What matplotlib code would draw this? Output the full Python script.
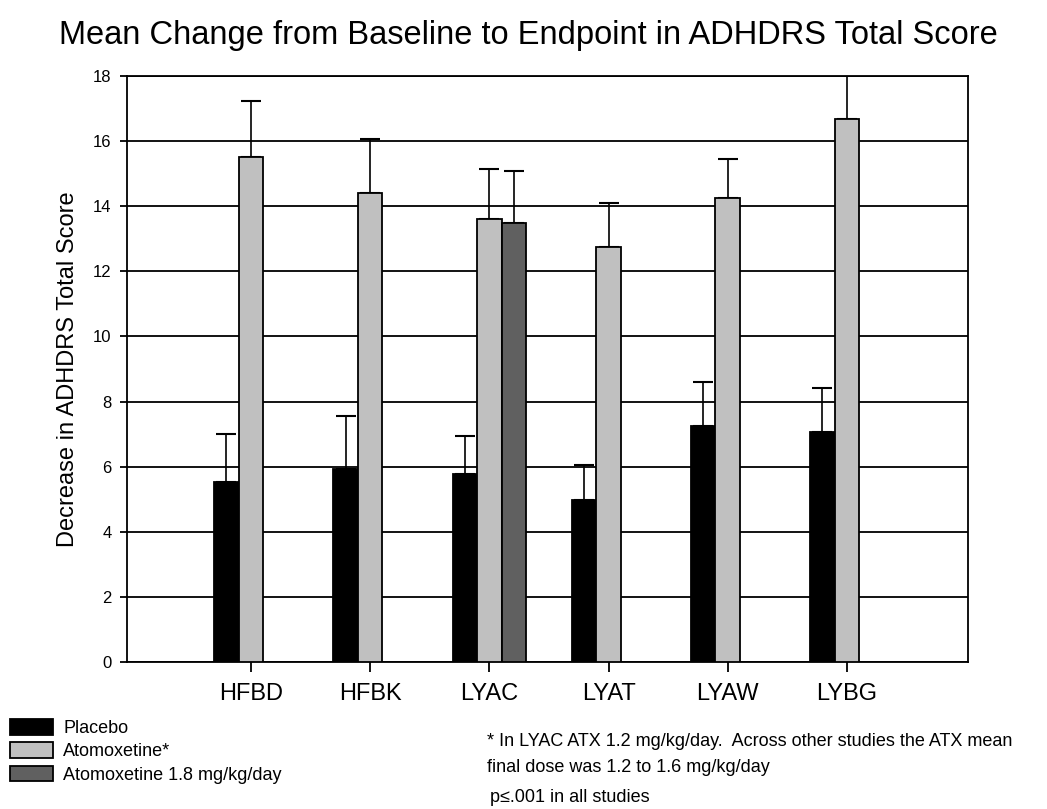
import numpy as np
import matplotlib.pyplot as plt
from matplotlib.patches import Patch

plt.rcParams['font.family'] = ['Liberation Sans', 'DejaVu Sans']

studies = ['HFBD', 'HFBK', 'LYAC', 'LYAT', 'LYAW', 'LYBG']
placebo = [5.54, 5.92, 5.78, 4.98, 7.26, 7.07]
placebo_err = [1.46, 1.63, 1.15, 1.08, 1.34, 1.34]
atx = [15.52, 14.41, 13.61, 12.76, 14.24, 16.69]
atx_err = [1.72, 1.66, 1.54, 1.34, 1.22, 1.75]
atx_high = [np.nan, np.nan, 13.49, np.nan, np.nan, np.nan]
atx_high_err = [np.nan, np.nan, 1.60, np.nan, np.nan, np.nan]

series_names = ['Placebo', 'Atomoxetine*', 'Atomoxetine 1.8 mg/kg/day']
colors = ['#000000', '#c0c0c0', '#606060']

fig = plt.figure(figsize=(10.47, 8.09), dpi=100)
ax = fig.add_axes([0.1213, 0.1817, 0.8032, 0.7243])

x = np.arange(len(studies))
w = 0.206
series = [(placebo, placebo_err), (atx, atx_err), (atx_high, atx_high_err)]
for i, (vals, errs) in enumerate(series):
    vals = np.array(vals)
    errs = np.array(errs)
    pos = x + (i - 1) * w
    ax.bar(pos, vals, width=w, color=colors[i], edgecolor='black', linewidth=1.3, zorder=3)
    ax.errorbar(pos, vals, yerr=[np.zeros_like(errs), errs], fmt='none', ecolor='black',
                elinewidth=1.2, capsize=7, capthick=1.5, zorder=2)

ax.set_ylim(0, 18)
ax.set_xlim(-1.04, 6.015)
ax.set_yticks(np.arange(0, 19, 2))
ax.set_xticks(x)
ax.set_xticklabels(studies, fontsize=17)
ax.tick_params(axis='y', labelsize=12, length=5, width=1.3, direction='out', pad=6)
ax.tick_params(axis='x', length=7, width=1.3, direction='out', pad=8)
ax.yaxis.grid(True, color='black', linewidth=1.3, zorder=0)
ax.set_axisbelow(True)
for s in ax.spines.values():
    s.set_linewidth(1.3)
ax.set_ylabel('Decrease in ADHDRS Total Score', fontsize=17, labelpad=10)

fig.text(0.505, 0.956, 'Mean Change from Baseline to Endpoint in ADHDRS Total Score',
         ha='center', va='center', fontsize=23.5)

handles = [Patch(facecolor=c, edgecolor='black', linewidth=1.3) for c in colors]
fig.legend(handles, series_names, loc='upper left', bbox_to_anchor=(10 / 1047, 1 - 719 / 809),
           frameon=False, fontsize=13, handlelength=2.4, handleheight=0.95,
           handletextpad=0.55, labelspacing=0.3, borderpad=0, borderaxespad=0)

fig.text(487 / 1047, 1 - 741 / 809,
         '* In LYAC ATX 1.2 mg/kg/day.  Across other studies the ATX mean', fontsize=13, va='center')
fig.text(487 / 1047, 1 - 767 / 809, 'final dose was 1.2 to 1.6 mg/kg/day', fontsize=13, va='center')
fig.text(490 / 1047, 1 - 798 / 809, 'p\u2264.001 in all studies', fontsize=13, va='center')

fig.savefig('out.png', dpi=100)
